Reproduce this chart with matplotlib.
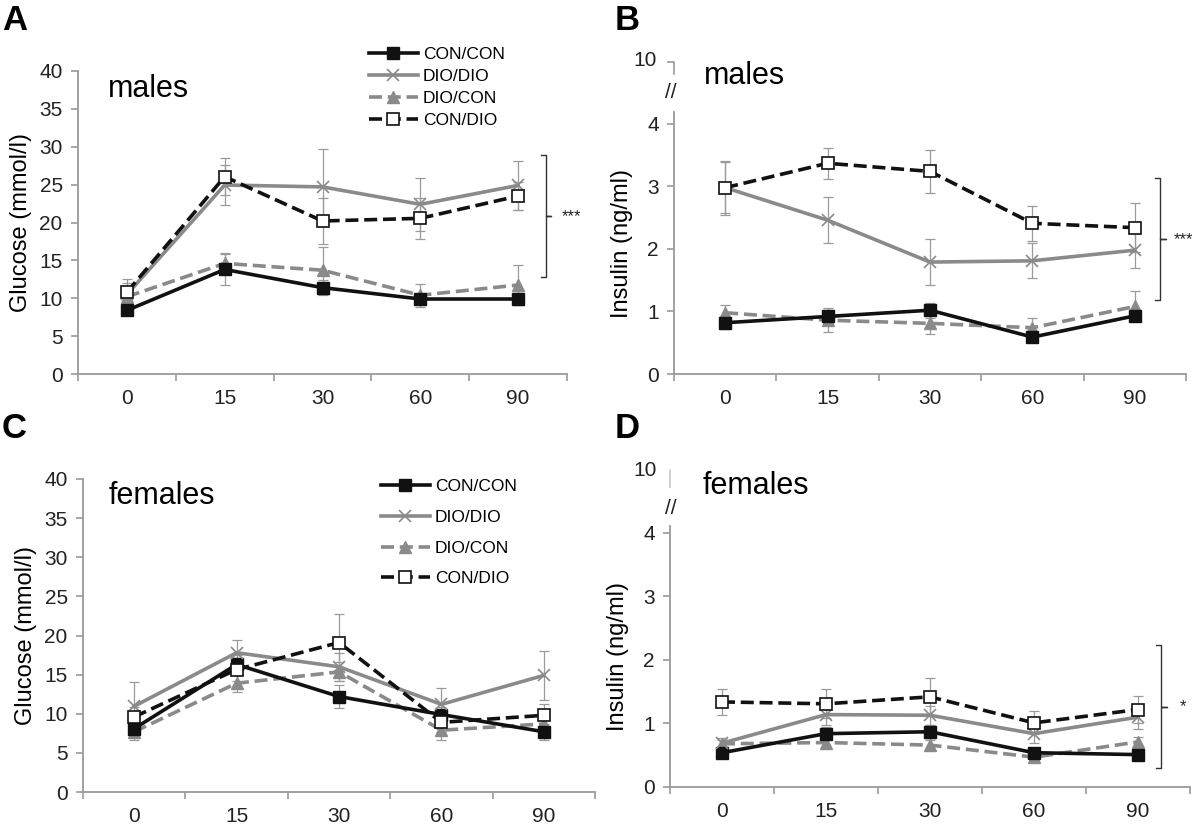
import matplotlib
matplotlib.use("Agg")
import matplotlib.pyplot as plt
from matplotlib.lines import Line2D
import numpy as np

plt.rcParams['font.family'] = ['Liberation Sans', 'DejaVu Sans']

# ---------------- data ----------------
time_labels = ["0", "15", "30", "60", "90"]
groups = ["CON/CON", "DIO/DIO", "DIO/CON", "CON/DIO"]

# Panel A: glucose, males (mmol/l)
gluc_m = {
    "CON/CON": [8.4, 13.8, 11.4, 9.9, 9.9],
    "DIO/DIO": [10.5, 24.95, 24.7, 22.4, 24.9],
    "DIO/CON": [10.2, 14.6, 13.7, 10.4, 11.75],
    "CON/DIO": [10.8, 26.05, 20.2, 20.55, 23.5],
}
gluc_m_err = {
    "CON/CON": [0.5, 2.0, 1.0, 0.4, 0.4],
    "DIO/DIO": [1.5, 2.6, 5.0, 3.5, 3.2],
    "DIO/CON": [1.0, 1.4, 3.1, 1.5, 2.6],
    "CON/DIO": [1.8, 2.45, 3.0, 2.7, 1.9],
}

# Panel B: insulin, males (ng/ml)
ins_m = {
    "CON/CON": [0.82, 0.92, 1.02, 0.59, 0.93],
    "DIO/DIO": [2.98, 2.46, 1.79, 1.81, 1.98],
    "DIO/CON": [0.98, 0.86, 0.81, 0.74, 1.08],
    "CON/DIO": [2.98, 3.37, 3.24, 2.41, 2.34],
}
ins_m_err = {
    "CON/CON": [0.10, 0.10, 0.12, 0.05, 0.08],
    "DIO/DIO": [0.41, 0.37, 0.37, 0.28, 0.29],
    "DIO/CON": [0.12, 0.19, 0.17, 0.15, 0.24],
    "CON/DIO": [0.43, 0.25, 0.35, 0.28, 0.39],
}

# Panel C: glucose, females (mmol/l)
gluc_f = {
    "CON/CON": [8.1, 16.3, 12.2, 9.9, 7.7],
    "DIO/DIO": [10.96, 17.8, 16.0, 11.2, 14.9],
    "DIO/CON": [7.7, 13.9, 15.35, 7.9, 8.7],
    "CON/DIO": [9.6, 15.65, 19.1, 8.9, 9.8],
}
gluc_f_err = {
    "CON/CON": [1.0, 1.2, 1.5, 1.0, 1.0],
    "DIO/DIO": [3.1, 1.6, 1.8, 2.1, 3.1],
    "DIO/CON": [1.0, 1.1, 1.2, 1.3, 1.0],
    "CON/DIO": [1.2, 1.5, 3.7, 1.2, 1.4],
}

# Panel D: insulin, females (ng/ml)
ins_f = {
    "CON/CON": [0.54, 0.84, 0.87, 0.54, 0.51],
    "DIO/DIO": [0.69, 1.14, 1.13, 0.84, 1.10],
    "DIO/CON": [0.68, 0.70, 0.66, 0.47, 0.71],
    "CON/DIO": [1.34, 1.31, 1.42, 1.01, 1.22],
}
ins_f_err = {
    "CON/CON": [0.05, 0.10, 0.10, 0.05, 0.05],
    "DIO/DIO": [0.08, 0.17, 0.15, 0.14, 0.18],
    "DIO/CON": [0.06, 0.08, 0.08, 0.05, 0.08],
    "CON/DIO": [0.21, 0.23, 0.30, 0.18, 0.22],
}

# ---------------- styles ----------------
BLACK = "#111111"
GRAY = "#8a8a8a"
ERRC = "#9a9a9a"
SPINE = "#9a9a9a"
DASH = (3.6, 1.6)
styles = {
    "CON/CON": dict(color=BLACK, ls="-", marker="s", mfc=BLACK, mec=BLACK, ms=8),
    "DIO/DIO": dict(color=GRAY, ls="-", marker="x", mfc=GRAY, mec=GRAY, ms=9, mew=1.2),
    "DIO/CON": dict(color=GRAY, ls=(0, DASH), marker="^", mfc=GRAY, mec=GRAY, ms=9),
    "CON/DIO": dict(color=BLACK, ls=(0, DASH), marker="s", mfc="white", mec=BLACK, ms=9, mew=1.2),
}
draw_order = ["DIO/CON", "CON/CON", "DIO/DIO", "CON/DIO"]

W, H = 1200, 827
fig = plt.figure(figsize=(W / 100, H / 100), dpi=100)


def px_axes(l, r, b, t):
    return fig.add_axes([l / W, 1 - b / H, (r - l) / W, (b - t) / H])


def fx(x):
    return x / W


def fy(y):
    return 1 - y / H


def setup(ax, ymax, yticks):
    x = np.arange(len(time_labels))
    ax.set_xlim(-0.5, len(time_labels) - 0.5)
    ax.set_ylim(0, ymax)
    ax.set_xticks(x)
    ax.set_xticklabels(time_labels)
    ax.set_xticks(np.arange(-0.5, len(time_labels)), minor=True)
    ax.tick_params(axis="x", which="major", length=0, pad=11, labelsize=15, labelcolor="#222")
    ax.tick_params(axis="x", which="minor", length=5, color=SPINE, width=1.2, direction="out")
    ax.set_yticks(yticks)
    ax.tick_params(axis="y", length=5, color=SPINE, width=1.2, pad=6, labelsize=15, labelcolor="#222")
    for s in ["top", "right"]:
        ax.spines[s].set_visible(False)
    for s in ["left", "bottom"]:
        ax.spines[s].set_color(SPINE)
        ax.spines[s].set_linewidth(1.3)
    ax.patch.set_alpha(0)


def plot_panel(ax, data, err):
    x = np.arange(len(time_labels))
    for g in draw_order:
        ax.errorbar(x, data[g], yerr=err[g], fmt="none", ecolor=ERRC,
                    elinewidth=0.9, capsize=3.5, capthick=0.9, zorder=2)
    handles = {}
    for g in draw_order:
        st = styles[g]
        (ln,) = ax.plot(x, data[g], lw=2.6, label=g, zorder=3, **st)
        handles[g] = ln
    return [handles[g] for g in groups]


def bracket(ax, x0, x1, y0, y1, star, sx):
    ym = (y0 + y1) / 2
    xm = x0 + (x1 - x0) * 0.5
    xs = [x0, xm, xm, x1, xm, xm, x0]
    ys = [y1, y1, ym, ym, ym, y0, y0]
    ax.plot(xs, ys, color="#333", lw=1.0, clip_on=False, zorder=4)
    ax.text(sx, ym, star, ha="left", va="center", fontsize=12, color="#222", clip_on=False)


# Panel A
axA = px_axes(78, 567, 374, 71)
setup(axA, 40, range(0, 41, 5))
hA = plot_panel(axA, gluc_m, gluc_m_err)
axA.set_ylabel("Glucose (mmol/l)", fontsize=17, labelpad=5)
axA.text(0.062, 0.99, "males", transform=axA.transAxes, fontsize=22, va="top", ha="left")
bracket(axA, 4.23, 4.34, 12.75, 28.9, "***", 4.45)
axA.legend(hA, groups, loc="upper left", bbox_to_anchor=(fx(362), fy(40)),
           bbox_transform=fig.transFigure, frameon=False, fontsize=12.5,
           handlelength=2.8, handletextpad=0.3, labelspacing=0.4, borderaxespad=0)

# Panel B
axB = px_axes(674, 1186, 374, 112)
setup(axB, 4.19, range(0, 5))
plot_panel(axB, ins_m, ins_m_err)
axB.set_ylabel("Insulin (ng/ml)", fontsize=17, labelpad=10)
axB.text(0.058, 1.195, "males", transform=axB.transAxes, fontsize=22, va="top", ha="left")
bracket(axB, 4.2, 4.3, 1.18, 3.13, "***", 4.38)

# Panel C
axC = px_axes(83, 595, 792, 479)
setup(axC, 40, range(0, 41, 5))
hC = plot_panel(axC, gluc_f, gluc_f_err)
axC.set_ylabel("Glucose (mmol/l)", fontsize=17, labelpad=5)
axC.text(0.05, 0.995, "females", transform=axC.transAxes, fontsize=22, va="top", ha="left")
axC.legend(hC, groups, loc="upper left", bbox_to_anchor=(fx(374), fy(472)),
           bbox_transform=fig.transFigure, frameon=False, fontsize=12.5,
           handlelength=2.8, handletextpad=0.3, labelspacing=0.9, borderaxespad=0)

# Panel D
axD = px_axes(670, 1190, 787, 526)
setup(axD, 4.11, range(0, 5))
plot_panel(axD, ins_f, ins_f_err)
axD.set_ylabel("Insulin (ng/ml)", fontsize=17, labelpad=10)
axD.text(0.063, 1.21, "females", transform=axD.transAxes, fontsize=22, va="top", ha="left")
bracket(axD, 4.17, 4.28, 0.30, 2.23, "*", 4.4)

# Axis breaks (the "10" stub above the break)
fig.text(fx(657), fy(61), "10", ha="right", va="center", fontsize=15, color="#222")
fig.add_artist(Line2D([fx(668), fx(674), fx(674)], [fy(62), fy(62), fy(74)],
                      color=SPINE, lw=1.2))
fig.text(fx(671), fy(93), "//", ha="center", va="center", fontsize=15, color="#222")

fig.text(fx(657), fy(470), "10", ha="right", va="center", fontsize=15, color="#222")
fig.add_artist(Line2D([fx(670), fx(670)], [fy(470), fy(487)], color="#c8c8c8", lw=1.2))
fig.text(fx(671), fy(508), "//", ha="center", va="center", fontsize=15, color="#222")

# Panel letters
for lab, x, y in [("A", 2, 4), ("B", 615, 4), ("C", 2, 412), ("D", 615, 412)]:
    fig.text(fx(x), fy(y), lab, ha="left", va="top", fontsize=25, fontweight="bold")

fig.savefig("out.png", dpi=100)
